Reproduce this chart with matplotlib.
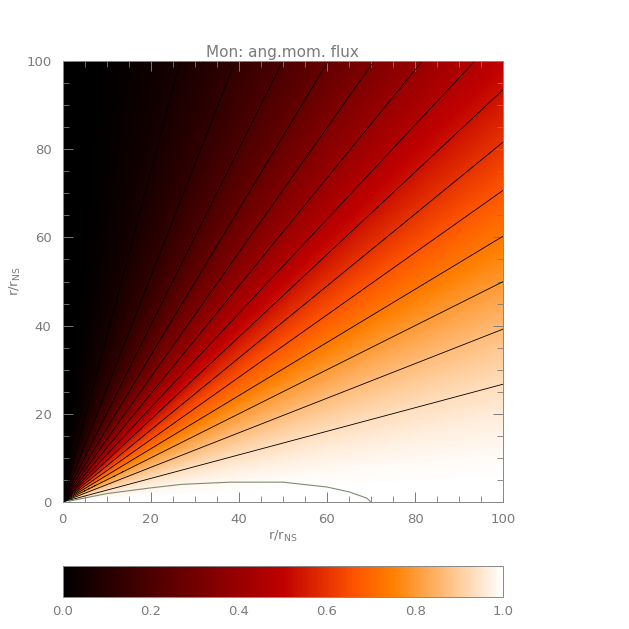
import numpy as np
import matplotlib
matplotlib.use("Agg")
import matplotlib.pyplot as plt
from matplotlib.ticker import MultipleLocator

# monopole angular momentum flux ~ sin^2(theta), theta from the pole
grid_n = 600
x_vals = np.linspace(0.0, 100.0, grid_n)
y_vals = np.linspace(0.0, 100.0, grid_n)
contour_levels = [1/15, 2/15, 3/15, 4/15, 5/15, 6/15, 7/15, 8/15,
                  9/15, 10/15, 11/15, 12/15, 13/15, 14/15]

# thin curve near the equator
curve_x = [1.5, 10, 20, 27, 38, 50, 60, 65, 69, 70]
curve_y = [0.2, 1.9, 3.2, 4.0, 4.5, 4.5, 3.4, 2.3, 0.9, 0.0]

xticks = [0, 20, 40, 60, 80, 100]
cbar_ticks = [0.0, 0.2, 0.4, 0.6, 0.8, 1.0]

txt = "#7a7a7a"

X, Y = np.meshgrid(x_vals, y_vals)
R2 = X**2 + Y**2
R2[R2 == 0] = 1e-9
flux = X**2 / R2

fig = plt.figure(figsize=(6.29, 6.29), dpi=100)
ax = fig.add_axes([0.0994, 0.2019, 0.7007, 0.7011])

im = ax.imshow(flux, origin="lower", extent=[0, 100, 0, 100], cmap="gist_heat",
               vmin=0, vmax=1, aspect="auto", interpolation="bilinear")
ax.contour(X, Y, flux, levels=contour_levels, colors="black", linewidths=0.6)
ax.plot(curve_x, curve_y, color="#7d8c74", lw=0.8)

ax.set_xlim(0, 100)
ax.set_ylim(0, 100)
ax.set_xticks(xticks)
ax.set_yticks(xticks)
ax.xaxis.set_minor_locator(MultipleLocator(5))
ax.yaxis.set_minor_locator(MultipleLocator(5))
ax.tick_params(which="both", direction="in", top=True, right=True,
               colors=txt, labelcolor=txt, labelsize=9.5)
ax.tick_params(which="major", length=7, width=0.7, pad=8)
ax.tick_params(which="minor", length=4, width=0.6)
for s in ax.spines.values():
    s.set_color("#888888")
    s.set_linewidth(0.7)

ax.set_xlabel(r"r/r$_{\rm NS}$", color=txt, fontsize=9.5, labelpad=2)
ax.set_ylabel(r"r/r$_{\rm NS}$", color=txt, fontsize=9.5, labelpad=2)
ax.set_title("Mon: ang.mom. flux", color=txt, fontsize=11, pad=3)

cax = fig.add_axes([0.0994, 0.0509, 0.7007, 0.0493])
cb = fig.colorbar(im, cax=cax, orientation="horizontal")
cb.set_ticks(cbar_ticks)
cb.set_ticklabels(["%.1f" % t for t in cbar_ticks])
cax.tick_params(length=0, colors=txt, labelcolor=txt, labelsize=9.5, pad=6)
cb.outline.set_edgecolor("#888888")
cb.outline.set_linewidth(0.7)

fig.savefig("out.png", dpi=100)
